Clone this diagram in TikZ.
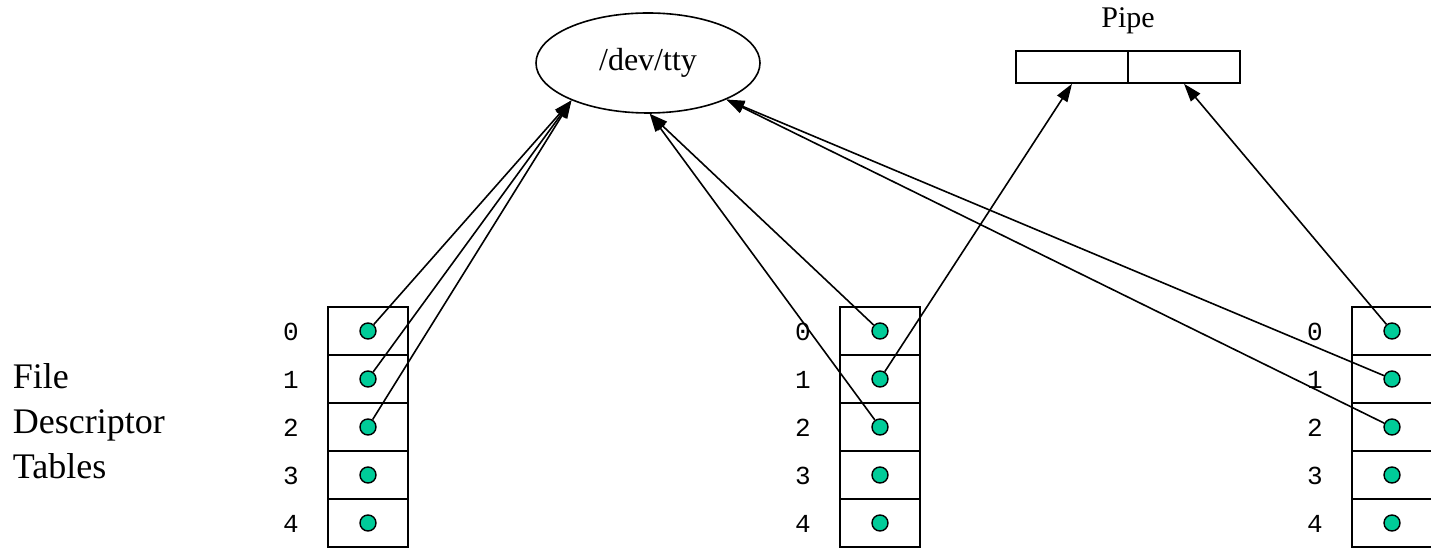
\documentclass[tikz,border=0pt]{standalone}
\usepackage{fontspec}
\setmainfont{Liberation Serif}
\setmonofont{Liberation Mono}
\usetikzlibrary{arrows.meta,shapes.geometric}
\definecolor{fdgreen}{RGB}{0,204,153}

\begin{document}
\begin{tikzpicture}[x=0.5pt,y=-0.5pt,>={Triangle[length=9pt,width=6pt]},
                    line width=0.8pt]
  \tikzstyle{cell}=[draw, anchor=center, inner sep=0pt, outer sep=0pt,
                    minimum width=40pt, minimum height=24pt]
  \tikzstyle{fd}=[circle, draw, fill=fdgreen, line width=0.7pt, inner sep=0pt,
                  minimum size=8pt]
  \tikzstyle{num}=[anchor=center, font=\ttfamily\fontsize{13}{15}\selectfont]
  \tikzstyle{half}=[draw, anchor=center, inner sep=0pt, minimum width=56pt,
                    minimum height=16pt]

  \useasboundingbox (0,0) rectangle (1431,549);

  % the three tables
  \foreach \t/\x in {1/368,2/880,3/1392}{
    \foreach \r in {0,...,4}{
      \node[cell] (c\t-\r) at (\x,331+48*\r) {};
      \node[fd]   (d\t-\r) at (\x,331+48*\r) {};
      \node[num]  (n\t-\r) at (\x-77,332+48*\r) {\r};
    }
  }

  \node[anchor=west, align=left, inner sep=0pt,
        font=\fontsize{18}{22.5}\selectfont] (fdt) at (12,421)
        {File\\Descriptor\\Tables};

  \node[ellipse, draw, inner sep=0pt, minimum width=112pt, minimum height=50pt,
        font=\fontsize{16}{19}\selectfont] (tty) at (648,63) {/dev/tty};

  \node[half] (pipeL) at (1072,67) {};
  \node[half] (pipeR) at (1184,67) {};
  \node[font=\fontsize{15}{18}\selectfont] (pipe) at (1128,21) {Pipe};

  \path[->] (d1-0) edge (tty.206)
            (d1-1) edge (tty.206)
            (d1-2) edge (tty.206)
            (d2-0) edge (tty.272)
            (d2-2) edge (tty.272)
            (d3-1) edge (tty.335)
            (d3-2) edge (tty.335)
            (d2-1) edge (pipeL.south)
            (d3-0) edge (pipeR.south);
\end{tikzpicture}
\end{document}
